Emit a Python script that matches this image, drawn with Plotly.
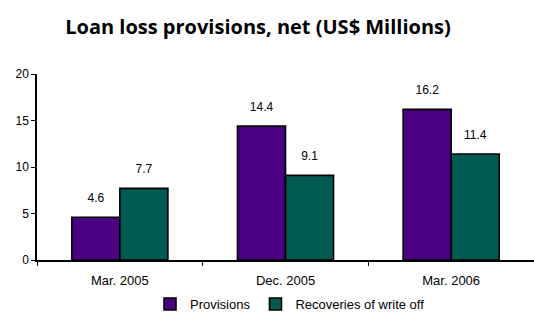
import plotly.graph_objects as go

categories = ["Mar. 2005", "Dec. 2005", "Mar. 2006"]
provisions = [4.6, 14.4, 16.2]
recoveries = [7.7, 9.1, 11.4]
y_ticks = [0, 5, 10, 15, 20]

LABEL_FONT = dict(family="Liberation Sans, Arial", size=12, color="black")

fig = go.Figure()
fig.add_trace(go.Bar(
    x=categories, y=provisions, name="Provisions", offsetgroup="p",
    marker=dict(color="#4a0080", line=dict(color="black", width=1.6)),
))
fig.add_trace(go.Bar(
    x=categories, y=recoveries, name="Recoveries of write off", offsetgroup="r",
    marker=dict(color="#005a50", line=dict(color="black", width=1.6)),
))
# value labels, grouped like the bars
for vals, grp in ((provisions, "p"), (recoveries, "r")):
    fig.add_trace(go.Scatter(
        x=categories, y=vals, mode="markers+text", offsetgroup=grp, showlegend=False,
        marker=dict(size=18, color="rgba(0,0,0,0)"),
        text=[f"{v:.1f}" for v in vals], textposition="top center",
        textfont=LABEL_FONT, cliponaxis=False, hoverinfo="skip",
    ))

fig.update_layout(
    width=534, height=313,
    margin=dict(l=37, r=0, t=74, b=53, autoexpand=False),
    paper_bgcolor="white", plot_bgcolor="white",
    barmode="group", bargap=0.42, bargroupgap=0,
    scattermode="group", scattergap=0.42,
    font=dict(family="Liberation Sans, Arial", size=12, color="black"),
    title=dict(text="<b>Loan loss provisions, net (US$ Millions)</b>",
               x=258 / 534, xanchor="center", xref="container",
               y=1 - 27 / 313, yanchor="middle", yref="container",
               font=dict(family="Open Sans, sans-serif", size=20, color="black")),
    showlegend=True,
    legend=dict(orientation="h", x=290 / 534, xanchor="center", xref="container",
                y=9 / 313, yanchor="middle", yref="container",
                font=dict(size=13), itemwidth=30, traceorder="normal"),
    xaxis=dict(showline=True, linecolor="black", linewidth=1.5,
               ticks="outside", tickson="boundaries", ticklen=4, tickcolor="black",
               ticklabelstandoff=8,
               showgrid=False, tickfont=dict(size=13)),
    yaxis=dict(range=[0, 20], tickvals=y_ticks, showline=True, linecolor="black",
               linewidth=1.5, ticks="outside", ticklen=4, tickcolor="black",
               showgrid=False, zeroline=False, tickfont=dict(size=12)),
)

fig.write_html("out.html", config={"displayModeBar": False},
               post_script="document.body.style.margin='0';")
